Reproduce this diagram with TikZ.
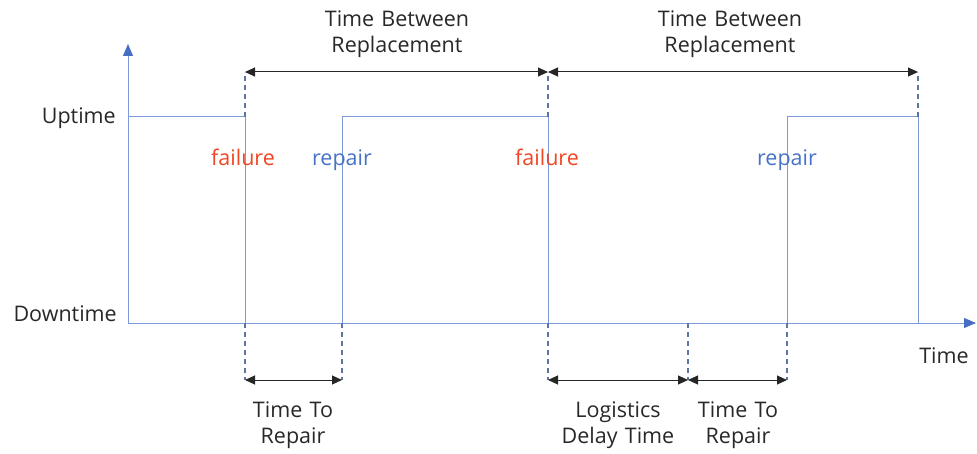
\documentclass[tikz,border=0pt]{standalone}
\usepackage{fontspec}
\setmainfont[WordSpace={1.3,0.5,0.3}]{Open Sans}
\usetikzlibrary{arrows.meta}
\definecolor{sig}{RGB}{125,155,218}
\definecolor{axis}{RGB}{70,110,195}
\definecolor{failred}{RGB}{240,70,35}
\definecolor{repblue}{RGB}{70,115,200}
\definecolor{txt}{RGB}{40,40,40}
\tikzset{
  lbl/.style={font=\fontsize{21.5}{26.5}\selectfont, text=txt, align=center, inner sep=0pt},
  fail/.style={font=\fontsize{21.5}{26.5}\selectfont, text=failred, inner sep=0pt, anchor=base},
  rep/.style={font=\fontsize{21.5}{26.5}\selectfont, text=repblue, inner sep=0pt, anchor=base},
  signal/.style={draw=sig, line width=1pt},
  guide/.style={draw=sig!75!black, line width=1.1pt, dash pattern=on 5pt off 4pt},
  span/.style={draw=black!85, line width=1pt, {Triangle[length=10pt,width=9pt]}-{Triangle[length=10pt,width=9pt]}},
  axisline/.style={draw=sig, line width=1pt, -{Triangle[length=12pt,width=10pt,color=axis]}}
}
\begin{document}
\begin{tikzpicture}[x=1pt,y=-1pt]
\useasboundingbox (0,0) rectangle (977,454);
% axes
\coordinate (O) at (128,323);
\coordinate (ytip) at (128,44);
\coordinate (xtip) at (976,323);
\draw[axisline] (O) -- (ytip);
\draw[axisline] (O) -- (xtip);
% level markers
\coordinate (u0) at (128,117);
\coordinate (f1u) at (245,117); \coordinate (f1d) at (245,323);
\coordinate (r1d) at (342,323); \coordinate (r1u) at (342,117);
\coordinate (f2u) at (548,117); \coordinate (f2d) at (548,323);
\coordinate (r2d) at (787,323); \coordinate (r2u) at (787,117);
\coordinate (e3u) at (918,117); \coordinate (e3d) at (918,323);
\coordinate (ld) at (688,323);
% up/down signal
\draw[signal] (u0) -- (f1u) -- (f1d) -- (r1d) -- (r1u) -- (f2u) -- (f2d) -- (r2d) -- (r2u) -- (e3u) -- (e3d);
% upper guides and spans
\coordinate (t1) at (245,72); \coordinate (t2) at (548,72); \coordinate (t3) at (918,72);
\draw[guide] (f1u) -- (t1);
\draw[guide] (f2u) -- (t2);
\draw[guide] (e3u) -- (t3);
\draw[span] (t1) -- (t2);
\draw[span] (t2) -- (t3);
% lower guides and spans
\coordinate (b1) at (245,380); \coordinate (b2) at (342,380);
\coordinate (b3) at (548,380); \coordinate (b4) at (688,380); \coordinate (b5) at (787,380);
\draw[guide] (f1d) -- (b1);
\draw[guide] (r1d) -- (b2);
\draw[guide] (f2d) -- (b3);
\draw[guide] (ld) -- (b4);
\draw[guide] (r2d) -- (b5);
\draw[span] (b1) -- (b2);
\draw[span] (b3) -- (b4);
\draw[span] (b4) -- (b5);
% labels
\node[lbl, anchor=east] (up) at (116,118) {Uptime};
\node[lbl, anchor=east] (down) at (117,314) {Downtime};
\node[lbl] (time) at (944,356) {Time};
\node[lbl] (tbr1) at (397,34) {Time Between\\Replacement};
\node[lbl] (tbr2) at (730,34) {Time Between\\Replacement};
\node[fail] (fl1) at (243,166) {failure};
\node[rep] (rp1) at (342,166) {repair};
\node[fail] (fl2) at (547,166) {failure};
\node[rep] (rp2) at (787,166) {repair};
\node[lbl] (ttr1) at (293,425) {Time To\\Repair};
\node[lbl] (ldt) at (618,425) {Logistics\\Delay Time};
\node[lbl] (ttr2) at (738,425) {Time To\\Repair};
\end{tikzpicture}
\end{document}
